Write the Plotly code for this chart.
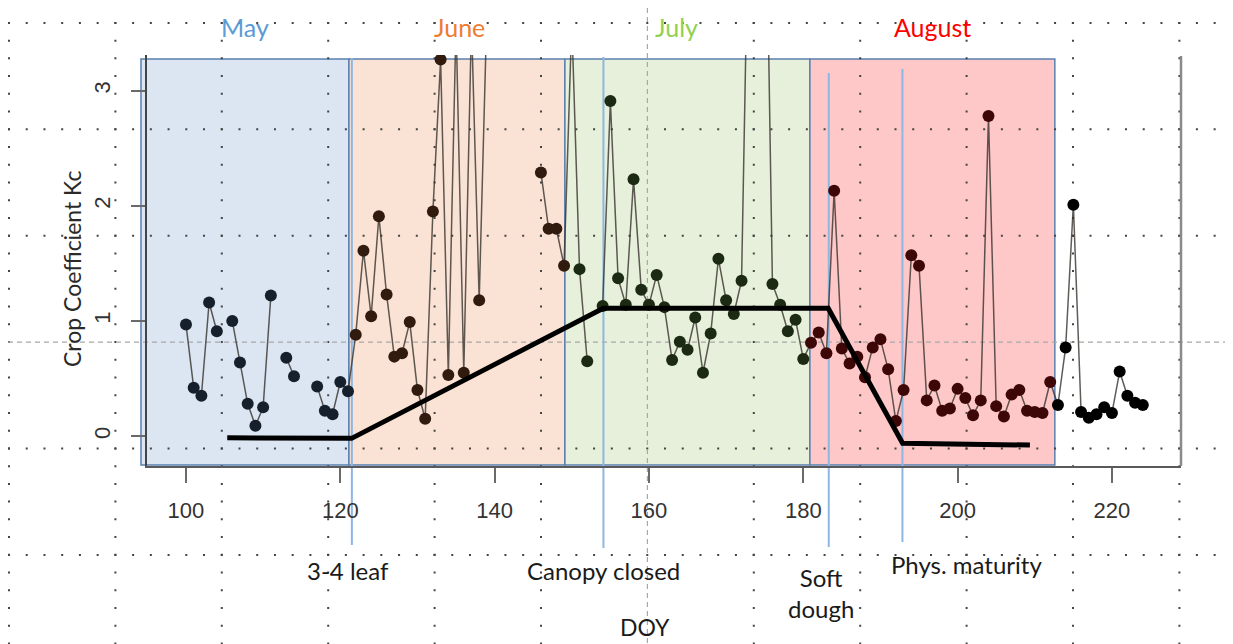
import plotly.graph_objects as go
import numpy as np

# ---------------- data ----------------
doy = list(range(100, 225))
kc = [
    0.97, 0.42, 0.35, 1.16, 0.91, None, 1.00, 0.64, 0.28, 0.09,   # 100-109
    0.25, 1.22, None, 0.68, 0.52, None, None, 0.43, 0.22, 0.19,   # 110-119
    0.47, 0.39, 0.88, 1.61, 1.04, 1.91, 1.23, 0.69, 0.72, 0.99,   # 120-129
    0.40, 0.15, 1.95, 3.27, 0.53, 3.60, 0.55, 3.60, 1.18, 3.70,   # 130-139
    None, None, None, None, None, None, 2.29, 1.80, 1.80, 1.48,   # 140-149
    3.60, 1.45, 0.65, None, 1.13, 2.91, 1.37, 1.14, 2.23, 1.27,   # 150-159
    1.14, 1.40, 1.12, 0.66, 0.82, 0.75, 1.03, 0.55, 0.89, 1.54,   # 160-169
    1.18, 1.06, 1.35, 5.00, 6.00, 5.50, 1.32, 1.14, 0.91, 1.01,   # 170-179
    0.67, 0.81, 0.90, 0.72, 2.13, 0.76, 0.63, 0.69, 0.51, 0.77,   # 180-189
    0.84, 0.58, 0.13, 0.40, 1.57, 1.48, 0.31, 0.44, 0.22, 0.24,   # 190-199
    0.41, 0.33, 0.18, 0.31, 2.78, 0.26, 0.17, 0.36, 0.40, 0.22,   # 200-209
    0.21, 0.20, 0.47, 0.27, 0.77, 2.01, 0.21, 0.16, 0.19, 0.25,   # 210-219
    0.20, 0.56, 0.35, 0.29, 0.27,                                 # 220-224
]

# FAO-style crop coefficient curve
kc_curve_doy = [105.35, 121.47, 154.08, 183.23, 192.87, 209.37]
kc_curve = [-0.015, -0.02, 1.11, 1.11, -0.063, -0.078]

# month bands
months = ["May", "June", "July", "August"]
month_start = [94.17, 121.12, 149.11, 180.86]
month_end = [121.12, 149.11, 180.86, 212.6]
month_label_doy = [107.6, 135.5, 163.6, 196.8]
month_fill = ["#dce6f2", "#fae3d5", "#e6f0da", "#ffc8c8"]
month_text = ["#5b9bd5", "#ed7d31", "#92d050", "#ff0000"]
month_point = ["#16202c", "#311b0f", "#1d2a13", "#3e0707"]

# growth stages
stages = ["3-4 leaf", "Canopy closed", "Soft<br>dough", "Phys. maturity"]
stage_doy = [121.5, 154.1, 183.3, 192.85]
stage_label_doy = [121.0, 154.1, 182.3, 201.2]

x_ticks = [100, 120, 140, 160, 180, 200, 220]
y_ticks = [0, 1, 2, 3]

# ---------------- layout geometry ----------------
OFF = 8  # page body margin
W, H = 1233 - OFF, 644 - OFF
PL, PR, PT, PB = 147, 1181, 55, 466   # plot box in window pixels
ML, MR, MT, MB = PL - OFF, (W + OFF) - PR, PT - OFF, (H + OFF) - PB
PW, PH = PR - PL, PB - PT
XR = [94.95, 228.95]
YR = [-0.26, 3.31]


def px2paper_x(px):
    return (px - PL) / PW


def px2paper_y(py):
    return (PB - py) / PH


def doy2paper(d):
    return (d - XR[0]) / (XR[1] - XR[0])


def point_color(d):
    for s, e, c in zip(month_start, month_end, month_point):
        if s <= d < e:
            return c
    return "#000000"


fig = go.Figure()

# connecting lines
fig.add_trace(go.Scatter(
    x=doy, y=kc, mode="lines",
    line=dict(color="rgba(55,50,45,0.8)", width=1.5),
    hoverinfo="skip", showlegend=False,
))
# points
fig.add_trace(go.Scatter(
    x=doy, y=kc, mode="markers",
    marker=dict(size=12, color=[point_color(d) for d in doy]),
    showlegend=False,
))
# crop coefficient curve
fig.add_trace(go.Scatter(
    x=kc_curve_doy, y=kc_curve, mode="lines",
    line=dict(color="#000000", width=5),
    showlegend=False,
))

shapes = []
# month bands
for s, e, c in zip(month_start, month_end, month_fill):
    shapes.append(dict(type="rect", xref="paper", yref="y",
                       x0=doy2paper(s), x1=doy2paper(e), y0=-0.252, y1=3.275,
                       fillcolor=c, line=dict(color="#5a80b0", width=1.5),
                       layer="below"))

# background dotted grid (whole picture)
GX0, GY0, GS = 9.0, 22.9, 106.4
dot_dash = "2px,%.2fpx" % (GS / 6 - 2)
for k in range(12):
    gx = GX0 + GS * k
    if k == 6:
        continue
    shapes.append(dict(type="line", xref="paper", yref="paper",
                       x0=px2paper_x(gx), x1=px2paper_x(gx),
                       y0=px2paper_y(GY0 - GS / 6 - 1), y1=px2paper_y(H + OFF + 10),
                       line=dict(color="#444444", width=2, dash=dot_dash),
                       layer="below"))
for n in range(6):
    gy = GY0 + GS * n
    if n == 3:
        continue
    shapes.append(dict(type="line", xref="paper", yref="paper",
                       x0=px2paper_x(GX0 - 1), x1=px2paper_x(W + OFF + 10),
                       y0=px2paper_y(gy), y1=px2paper_y(gy),
                       line=dict(color="#444444", width=2, dash=dot_dash),
                       layer="below"))
# dashed guides
shapes.append(dict(type="line", xref="paper", yref="paper",
                   x0=px2paper_x(OFF), x1=px2paper_x(W + OFF),
                   y0=px2paper_y(GY0 + 3 * GS), y1=px2paper_y(GY0 + 3 * GS),
                   line=dict(color="#a8a8a8", width=1.2, dash="5px,4px"),
                   layer="below"))
shapes.append(dict(type="line", xref="paper", yref="paper",
                   x0=px2paper_x(GX0 + 6 * GS), x1=px2paper_x(GX0 + 6 * GS),
                   y0=px2paper_y(OFF), y1=px2paper_y(H + OFF),
                   line=dict(color="#a8a8a8", width=1.2, dash="5px,4px"),
                   layer="below"))

# growth stage lines
stage_top = [58, 57, 73, 69]
stage_bot = [545, 548, 547, 542]
for d, t, b in zip(stage_doy, stage_top, stage_bot):
    shapes.append(dict(type="line", xref="x", yref="paper",
                       x0=d, x1=d, y0=px2paper_y(b), y1=px2paper_y(t),
                       line=dict(color="#8db7e2", width=2), layer="below"))

# right border of the box
shapes.append(dict(type="line", xref="paper", yref="paper",
                   x0=1, x1=1, y0=0, y1=px2paper_y(56),
                   line=dict(color="#8a8a8a", width=2.5), layer="above"))

annotations = []
CAL = "Lato, 'Open Sans', sans-serif"
for m, d, c in zip(months, month_label_doy, month_text):
    annotations.append(dict(text=m, x=d, xref="x", y=px2paper_y(27), yref="paper",
                            showarrow=False, font=dict(family=CAL, size=25, color=c),
                            xanchor="center", yanchor="middle"))
stage_y = [570, 570, 593, 564]
for s, d, yy in zip(stages, stage_label_doy, stage_y):
    annotations.append(dict(text=s, x=d, xref="x", y=px2paper_y(yy), yref="paper",
                            showarrow=False, font=dict(family=CAL, size=24, color="#1a1a1a"),
                            xanchor="center", yanchor="middle"))
annotations.append(dict(text="DOY", x=159.5, xref="x", y=px2paper_y(627), yref="paper",
                        showarrow=False, font=dict(family=CAL, size=23, color="#1a1a1a"),
                        xanchor="center", yanchor="middle"))
annotations.append(dict(text="Crop Coefficient Kc", x=px2paper_x(72), xref="paper",
                        y=px2paper_y(269), yref="paper", textangle=-90,
                        showarrow=False, font=dict(family=CAL, size=23, color="#2a2a2a"),
                        xanchor="center", yanchor="middle"))

fig.update_layout(
    width=W, height=H, autosize=False,
    margin=dict(l=ML, r=MR, t=MT, b=MB, pad=0),
    paper_bgcolor="white", plot_bgcolor="white",
    shapes=shapes, annotations=annotations,
    showlegend=False,
    xaxis=dict(range=XR, tickvals=x_ticks, ticks="outside", ticklen=15, tickwidth=2,
               tickcolor="#6a6a6a", showline=True, linecolor="#5a5a5a", linewidth=2,
               showgrid=False, zeroline=False, ticklabelstandoff=9,
               tickfont=dict(family="Liberation Sans, Arial", size=22, color="#333333")),
    yaxis=dict(range=YR, tickvals=y_ticks, ticks="outside", ticklen=14, tickwidth=2,
               tickcolor="#6a6a6a", showline=True, linecolor="#444444", linewidth=2,
               showgrid=False, zeroline=False, tickangle=-90, ticklabelstandoff=12,
               tickfont=dict(family="Liberation Sans, Arial", size=22, color="#333333")),
)

fig.write_html("out.html")
